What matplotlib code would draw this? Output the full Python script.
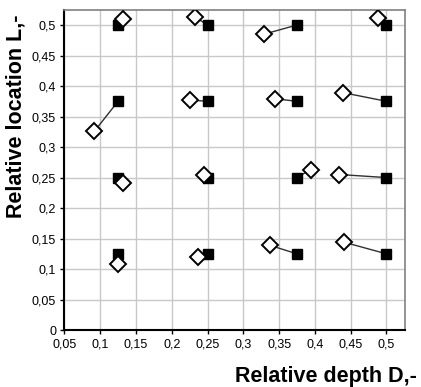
import matplotlib
matplotlib.use("Agg")
import matplotlib.pyplot as plt
from matplotlib.ticker import MultipleLocator, FuncFormatter

plt.rcParams['font.family'] = ['Liberation Sans', 'DejaVu Sans']

# true positions (black squares)
true_d = [0.125, 0.25, 0.375, 0.5,
          0.125, 0.25, 0.375, 0.5,
          0.125, 0.25, 0.375, 0.5,
          0.125, 0.25, 0.375, 0.5]
true_l = [0.5, 0.5, 0.5, 0.5,
          0.375, 0.375, 0.375, 0.375,
          0.25, 0.25, 0.25, 0.25,
          0.125, 0.125, 0.125, 0.125]

# identified positions (open diamonds)
est_d = [0.132, 0.233, 0.329, 0.488,
         0.092, 0.225, 0.345, 0.440,
         0.132, 0.245, 0.394, 0.434,
         0.125, 0.236, 0.337, 0.441]
est_l = [0.510, 0.513, 0.485, 0.511,
         0.326, 0.377, 0.379, 0.389,
         0.241, 0.254, 0.263, 0.255,
         0.109, 0.120, 0.139, 0.144]

fig = plt.figure(figsize=(4.21, 3.87), dpi=100)
ax = fig.add_axes([0.153, 0.147, 0.809, 0.827])

# connecting lines
for xd, yd, xe, ye in zip(true_d, true_l, est_d, est_l):
    ax.plot([xe, xd], [ye, yd], color='#303030', lw=1.0, zorder=2)

ax.plot(true_d, true_l, ls='none', marker='s', ms=6.5, color='black', zorder=3)
ax.plot(est_d, est_l, ls='none', marker='D', ms=8, mfc='white', mec='black',
        mew=1.4, zorder=4)

ax.set_xlim(0.05, 0.526)
ax.set_ylim(0, 0.5245)
ax.xaxis.set_major_locator(MultipleLocator(0.05))
ax.yaxis.set_major_locator(MultipleLocator(0.05))

def comma(v, pos):
    s = ('%.2f' % v).rstrip('0').rstrip('.')
    return s.replace('.', ',')

ax.xaxis.set_major_formatter(FuncFormatter(comma))
ax.yaxis.set_major_formatter(FuncFormatter(comma))

ax.grid(True, color='#c8c8c8', lw=1.0)
ax.set_axisbelow(True)
ax.tick_params(direction='out', length=3, width=1, labelsize=9, pad=3)

for side in ['left', 'bottom']:
    ax.spines[side].set_color('black')
    ax.spines[side].set_linewidth(1.5)
for side in ['top', 'right']:
    ax.spines[side].set_color('#808080')
    ax.spines[side].set_linewidth(1.2)

fig.text(0.99, 0.028, 'Relative depth D,-', ha='right', va='center',
         fontsize=15.5, fontweight='bold')
fig.text(0.038, 0.70, 'Relative location L,-', ha='center', va='center',
         rotation=90, fontsize=15.5, fontweight='bold')

fig.savefig('out.png', dpi=100)
